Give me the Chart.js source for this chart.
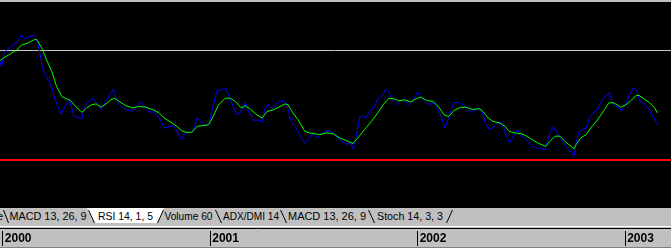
<!DOCTYPE html>
<html>
<head>
<title>RSI 14, 1, 5</title>
<script src="https://cdn.jsdelivr.net/npm/chart.js"></script>
<style>
body { margin: 0; background: #c0c0c0; }
#wrap { position: relative; width: 671px; height: 248px; overflow: hidden; }
#tabs { position: absolute; left: 0; top: 208px; }
#tabs text { font: 11px "Liberation Sans", Arial, sans-serif; fill: #000; }
</style>
</head>
<body>
<div id="wrap">
  <canvas id="chart" width="671" height="248"></canvas>
  <svg id="tabs" width="671" height="21" xmlns="http://www.w3.org/2000/svg">
    <rect width="671" height="21" fill="#c0c0c0"/>
    <polygon points="87,0 164,0 157.5,15 94.5,15" fill="#fff"/>
    <g stroke="#000" stroke-width="1" fill="none">
      <path d="M3.5,2 L8.5,15"/>
      <path d="M88.5,2 L94.5,15"/>
      <path d="M163.5,2 L157.5,15"/>
      <path d="M215.5,2 L221.5,15"/>
      <path d="M280.5,2 L286.5,15"/>
      <path d="M368.5,2 L374.5,15"/>
      <path d="M452.5,2 L446.5,15"/>
    </g>
    <line x1="0" y1="18.5" x2="671" y2="18.5" stroke="#fff"/>
    <line x1="0" y1="20.5" x2="671" y2="20.5" stroke="#000"/>
    <text x="3" y="12" text-anchor="end">e</text>
    <text x="9.5" y="12" textLength="77" lengthAdjust="spacingAndGlyphs">MACD 13, 26, 9</text>
    <text x="98" y="12" textLength="55" lengthAdjust="spacingAndGlyphs">RSI 14, 1, 5</text>
    <text x="164.5" y="12" textLength="48" lengthAdjust="spacingAndGlyphs">Volume 60</text>
    <text x="223" y="12" textLength="56" lengthAdjust="spacingAndGlyphs">ADX/DMI 14</text>
    <text x="288" y="12" textLength="78" lengthAdjust="spacingAndGlyphs">MACD 13, 26, 9</text>
    <text x="377" y="12" textLength="66" lengthAdjust="spacingAndGlyphs">Stoch 14, 3, 3</text>
  </svg>
</div>

<script>
// weekly RSI 14 (blue) and its 5 period average (green), x in weeks from start of 2000
const rsiWeeks = [-0.6,-0.2,0.4,1.1,1.9,2.9,3.6,4.2,4.8,5.7,6.7,7.7,8.4,9.0,9.4,9.9,10.5,11.5,12.4,13.2,14.0,14.7,15.7,16.8,17.4,17.9,19.0,19.9,20.3,21.0,22.0,22.8,23.5,
  24.7,25.5,26.8,27.8,28.5,29.3,30.6,31.8,32.8,33.5,34.7,35.6,36.8,38.1,38.9,39.8,40.6,41.8,42.8,43.5,44.3,45.0,45.6,46.4,47.5,
  48.2,48.8,49.6,50.5,51.7,52.5,53.2,53.8,54.9,55.9,56.5,57.5,58.8,59.6,60.9,61.7,63.0,64.2,65.1,65.7,66.7,67.7,68.8,70.1,71.1,71.6,
  72.4,73.3,74.5,75.8,76.8,77.6,78.3,78.9,79.9,81.2,82.0,82.9,84.1,85.4,86.4,87.3,87.9,88.7,89.6,90.4,91.2,92.3,93.1,94.0,95.0,95.6,
  96.1,96.9,97.7,98.8,99.8,100.8,101.9,103.0,104.0,104.8,105.8,106.9,108.2,109.0,109.9,110.9,111.9,113.2,114.4,115.5,116.7,117.8,118.9,119.7,
  120.4,121.0,122.0,123.0,124.3,125.1,126.2,127.2,128.1,129.1,130.2,131.4,132.7,133.9,135.2,136.0,136.8,137.4,138.1,138.9,139.8,141.0,141.8,142.9,143.3,143.8,
  144.6,145.6,146.4,147.1,148.1,149.2,150.3,151.3,152.1,152.8,153.6,154.6,155.3,156.1,157.1,158.1,159.0,159.8,160.9,161.7,162.8,164.2];
const rsiValues = [65.9,64.0,69.1,70.2,71.2,72.0,73.2,74.4,75.7,74.1,75.0,75.7,74.4,72.0,69.0,64.7,61.7,59.3,56.3,52.0,49.3,46.9,49.6,51.7,49.0,46.2,45.3,45.0,47.7,50.8,52.0,52.6,51.0,
  48.4,50.2,53.8,55.9,52.6,50.2,48.6,48.1,47.7,49.6,51.4,49.6,47.4,47.7,46.2,44.1,41.7,42.1,42.5,41.1,38.9,37.5,39.3,40.1,40.1,
  42.3,45.3,44.1,42.7,42.9,47.7,52.0,55.4,55.6,56.3,54.4,50.8,46.5,47.2,51.0,47.7,44.5,44.5,43.7,48.4,50.5,48.4,51.0,51.6,51.0,48.4,
  44.1,42.3,39.3,36.3,37.7,39.5,39.3,38.1,39.6,40.5,40.8,39.9,38.1,36.5,35.6,36.3,34.1,38.7,45.7,46.2,45.3,48.4,49.0,52.0,53.0,54.4,
  55.9,54.7,52.3,50.2,51.7,51.7,50.2,51.7,54.8,53.8,51.4,50.2,51.0,49.0,46.2,41.7,45.7,51.0,51.0,50.2,48.4,47.4,48.6,48.6,
  47.2,43.5,41.3,41.9,43.7,43.7,39.3,36.3,38.7,41.1,38.9,37.5,35.0,34.4,34.1,33.8,37.5,40.5,42.1,40.5,38.1,35.6,33.8,32.4,31.4,36.3,
  40.5,41.3,41.7,45.3,47.2,48.4,52.0,53.2,54.8,51.4,49.8,49.0,48.0,50.2,53.5,56.3,55.6,51.4,50.5,49.3,46.5,42.9];

const signalWeeks = [-0.6,0.2,1.9,3.6,4.8,6.5,7.7,8.6,9.9,11.1,12.4,13.6,14.9,16.1,16.9,18.2,19.9,21.1,22.4,23.5,
  24.7,26.0,27.2,28.1,29.3,31.0,32.7,34.3,36.0,37.7,39.3,40.6,42.3,43.5,45.0,46.0,47.5,
  48.8,50.0,51.7,53.0,54.2,55.9,57.1,58.4,59.9,60.9,62.1,63.8,65.1,66.3,68.0,69.7,70.9,71.6,
  72.8,74.1,75.8,77.0,78.3,79.5,81.2,82.9,84.5,86.2,87.9,89.1,90.8,92.5,94.1,95.6,
  96.9,98.2,99.4,100.8,102.3,103.6,104.8,106.5,108.0,109.4,110.7,111.9,113.2,114.9,116.4,117.8,119.0,119.7,
  120.5,121.8,123.0,124.7,126.0,127.0,128.5,130.2,131.4,133.1,134.7,136.2,137.2,138.5,139.8,141.0,142.3,143.3,143.8,
  145.0,146.3,147.5,149.2,150.9,152.1,153.4,155.0,156.3,157.5,158.8,159.6,160.9,162.1,163.4,164.2];
const signalValues = [66.3,67.2,68.7,70.2,72.0,72.8,73.8,74.1,70.8,66.5,62.3,56.8,53.2,52.3,52.0,49.8,47.4,49.0,50.2,50.5,
  49.3,50.5,52.0,52.6,51.4,49.8,49.0,49.6,49.3,48.4,47.2,45.3,43.7,42.5,40.7,40.1,40.1,
  42.3,42.5,42.9,46.5,50.2,52.6,52.6,51.4,49.0,49.8,48.6,46.5,45.3,47.7,48.4,49.6,50.5,50.2,
  47.2,44.7,40.5,39.9,39.6,39.3,39.9,39.6,38.1,37.1,36.0,38.1,41.1,44.1,47.2,50.5,
  52.6,52.3,51.6,52.0,51.2,52.3,53.0,51.7,51.4,49.3,46.5,45.9,48.1,49.3,49.2,48.4,48.7,48.6,
  47.7,45.3,44.1,43.5,42.3,40.5,39.9,39.6,38.7,37.1,35.9,35.0,36.8,38.7,38.7,36.8,35.3,34.1,35.6,
  38.1,39.3,41.7,44.7,48.4,51.0,50.8,49.3,50.2,51.6,53.5,53.6,52.3,51.0,49.3,47.2];

const yearTicks = [0, 52, 104, 156];
const yearLabels = ['2000', '2001', '2002', '2003'];
const upperLevel = 70;
const lowerLevel = 30;

const xMin = -0.6, xMax = 167.6;
const yMin = 12.47, yMax = 87.72;

const toPoints = (xs, ys) => xs.map((x, i) => ({x: x, y: ys[i]}));

const frame = {
    id: 'frame',
    beforeDraw(chart) {
        const {ctx, chartArea: a, width, height} = chart;
        ctx.save();
        ctx.fillStyle = '#c0c0c0';
        ctx.fillRect(0, 0, width, height);
        ctx.fillStyle = '#000';
        ctx.fillRect(a.left, a.top, a.right - a.left, a.bottom - a.top);
        ctx.restore();
    },
    afterDraw(chart) {
        const {ctx, scales: {x}} = chart;
        ctx.save();
        ctx.strokeStyle = '#000';
        ctx.lineWidth = 1;
        x.ticks.forEach(t => {
            const px = Math.round(x.getPixelForValue(t.value)) + 0.5;
            ctx.beginPath();
            ctx.moveTo(px, 231);
            ctx.lineTo(px, 246);
            ctx.stroke();
        });
        ctx.strokeStyle = '#808080';
        ctx.beginPath();
        ctx.moveTo(0, 247.5);
        ctx.lineTo(chart.width, 247.5);
        ctx.stroke();
        ctx.restore();
    }
};

new Chart(document.getElementById('chart'), {
    type: 'line',
    data: {
        datasets: [
            { data: toPoints(signalWeeks, signalValues), borderColor: '#00ff00', borderWidth: 1 },
            { data: toPoints(rsiWeeks, rsiValues), borderColor: '#0000ff', borderWidth: 1 },
            { data: toPoints([xMin, xMax], [upperLevel, upperLevel]), borderColor: '#c8c8c8', borderWidth: 1 },
            { data: toPoints([xMin, xMax], [lowerLevel, lowerLevel]), borderColor: '#ff0000', borderWidth: 2 }
        ]
    },
    options: {
        responsive: false,
        animation: false,
        devicePixelRatio: 1,
        elements: { point: { radius: 0 }, line: { tension: 0 } },
        layout: { padding: { top: 2, left: 0, right: 0, bottom: 0 } },
        plugins: { legend: { display: false }, tooltip: { enabled: false } },
        scales: {
            x: {
                type: 'linear',
                min: xMin,
                max: xMax,
                border: { display: false },
                grid: { display: false, drawTicks: false },
                ticks: {
                    align: 'start',
                    padding: 23,
                    maxRotation: 0,
                    autoSkip: false,
                    color: '#000',
                    font: { family: '"Liberation Sans", Arial, sans-serif', size: 12, weight: 'bold' },
                    callback: (v, i) => '\u2009' + yearLabels[i]
                },
                afterBuildTicks: s => { s.ticks = yearTicks.map(v => ({ value: v })); },
                afterFit: s => { s.height = 40; s.paddingLeft = 0; s.paddingRight = 0; }
            },
            y: { display: false, min: yMin, max: yMax }
        }
    },
    plugins: [frame]
});
</script>
</body>
</html>
